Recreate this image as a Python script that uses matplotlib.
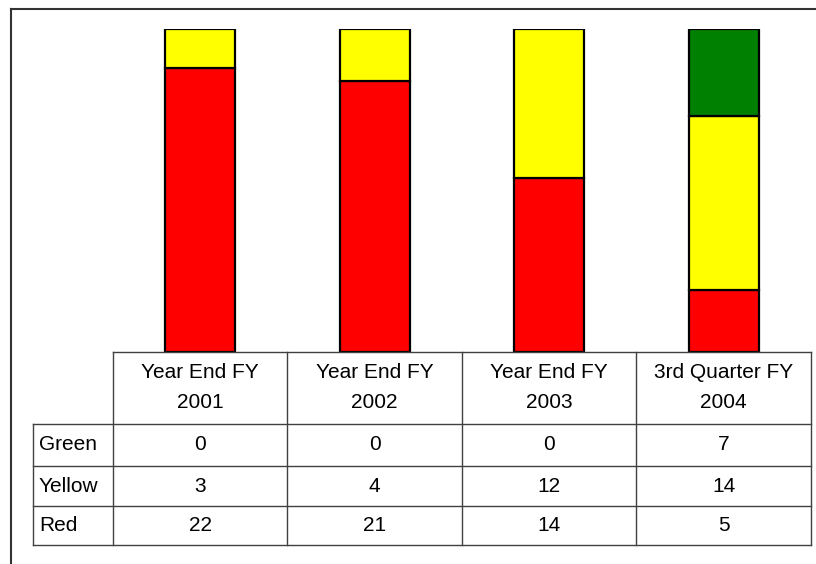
import matplotlib
matplotlib.use("Agg")
import matplotlib.pyplot as plt
from matplotlib.lines import Line2D
import numpy as np

plt.rcParams['font.family'] = ['Liberation Sans', 'DejaVu Sans']

categories = ["Year End FY\n2001", "Year End FY\n2002", "Year End FY\n2003", "3rd Quarter FY\n2004"]
series_names = ["Green", "Yellow", "Red"]
green = [0, 0, 0, 7]
yellow = [3, 4, 12, 14]
red = [22, 21, 14, 5]
colors = {"Green": "#008000", "Yellow": "#FFFF00", "Red": "#FF0000"}

W, H = 816, 564
fig = plt.figure(figsize=(W / 100, H / 100), dpi=100)

def fx(x):
    return x / W

def fy(y):
    return 1 - y / H

# layout (pixels)
tab_left, data_left, tab_right = 33, 113, 811
plot_top, tab_top = 29, 352
row_lines = [424, 466, 506, 545]

# bars axes
ax = fig.add_axes([fx(data_left), fy(tab_top), fx(tab_right - data_left), (tab_top - plot_top) / H])
n = len(categories)
x = np.arange(n)
g = np.array(green, float); yv = np.array(yellow, float); r = np.array(red, float)
tot = g + yv + r
rp, yp, gp = r / tot * 100, yv / tot * 100, g / tot * 100
kw = dict(width=0.4, edgecolor="black", linewidth=1.6)
ax.bar(x, rp, color=colors["Red"], **kw)
ax.bar(x, yp, bottom=rp, color=colors["Yellow"], **kw)
mask = gp > 0
ax.bar(x[mask], gp[mask], bottom=(rp + yp)[mask], color=colors["Green"], **kw)
ax.set_xlim(-0.5, n - 0.5)
ax.set_ylim(0, 100)
ax.axis("off")

# table axes in pixel units
tax = fig.add_axes([fx(tab_left), fy(row_lines[-1]), fx(tab_right - tab_left), (row_lines[-1] - tab_top) / H])
tax.set_xlim(tab_left, tab_right)
tax.set_ylim(row_lines[-1], tab_top)
tax.axis("off")
lc = "#404040"
lw = 1.0
colw = (tab_right - data_left) / n
col_edges = [data_left + i * colw for i in range(n + 1)]
tax.plot([data_left, tab_right], [tab_top, tab_top], color=lc, lw=lw, clip_on=False)
for yl in row_lines:
    tax.plot([tab_left, tab_right], [yl, yl], color=lc, lw=lw, clip_on=False)
for xe in col_edges:
    tax.plot([xe, xe], [tab_top, row_lines[-1]], color=lc, lw=lw, clip_on=False)
tax.plot([tab_left, tab_left], [row_lines[0], row_lines[-1]], color=lc, lw=lw, clip_on=False)

fs = 15
hc = (tab_top + row_lines[0]) / 2
for i, cat in enumerate(categories):
    cx = data_left + (i + 0.5) * colw
    l1, l2 = cat.split("\n")
    tax.text(cx, hc - 15, l1, ha="center", va="center", fontsize=fs, color="black")
    tax.text(cx, hc + 15, l2, ha="center", va="center", fontsize=fs, color="black")
values = {"Green": green, "Yellow": yellow, "Red": red}
for k, name in enumerate(series_names):
    cy = (row_lines[k] + row_lines[k + 1]) / 2
    tax.text(tab_left + 6, cy, name, ha="left", va="center", fontsize=fs, color="black")
    for i, v in enumerate(values[name]):
        cx = data_left + (i + 0.5) * colw
        tax.text(cx, cy, str(v), ha="center", va="center", fontsize=fs, color="black")

# outer frame (top and left visible)
fig.add_artist(Line2D([fx(11), fx(11)], [fy(9), 0], color="#333333", lw=1.5))
fig.add_artist(Line2D([fx(11), 1], [fy(9), fy(9)], color="#333333", lw=1.5))

fig.savefig("out.png", dpi=100, facecolor="white")
